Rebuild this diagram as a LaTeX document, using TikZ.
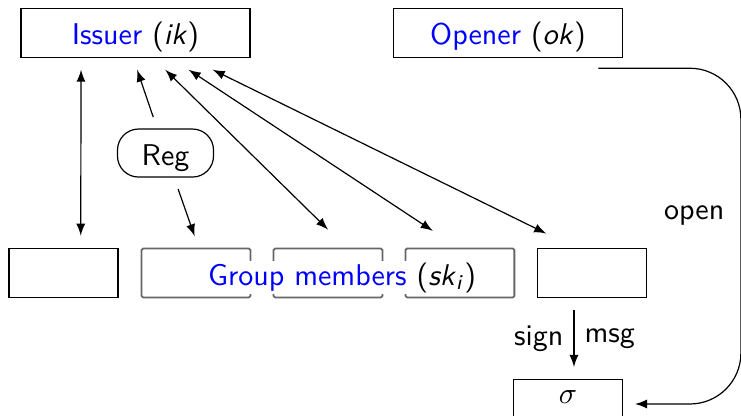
\documentclass[tikz,border=0pt]{standalone}
\usepackage{amsmath}
\usepackage{tikz}
\usetikzlibrary{arrows}
\renewcommand{\familydefault}{\sfdefault}

\begin{document}
\begin{tikzpicture}[
            >=latex,
            party/.style={draw, minimum width=76.3pt, minimum height=16.3pt, inner ysep=1pt, text height=2.4ex, text depth=.6ex}, % Issuer and opener
            member/.style={draw, minimum width=36.3pt, minimum height=16.3pt}, % One box per group member
            faded/.style={member, draw=black!60, line width=.6pt, rounded corners=.5pt}, % Members lying behind the label
            regbox/.style={draw, rounded corners=7pt, minimum width=32pt, minimum height=16pt, inner ysep=1pt, text height=2.4ex, text depth=.6ex},
            both/.style={<->}, % Two-way exchange with the issuer
            one/.style={->, shorten <=4pt}
            ]

        \useasboundingbox (0,0) rectangle (8.681,4.862);

        % Issuer and opener on top
        \node[party] (issuer) at (1.587,4.479) {\textcolor{blue}{Issuer} (\textsl{ik})};
        \node[party] (opener) at (5.951,4.479) {\textcolor{blue}{Opener} (\textsl{ok})};

        % Row of group members
        \node[member] (m1) at (0.744,1.664) {};
        \node[faded] (m2) at (2.296,1.664) {};
        \node[faded] (m3) at (3.843,1.664) {};
        \node[faded] (m4) at (5.388,1.664) {};
        \node[member] (m5) at (6.935,1.664) {};
        \node[fill=white, inner sep=.5pt, anchor=base] (grp) at (4.007,1.523)
            {\textcolor{blue}{Group members} (\textsl{sk}\textsubscript{\textsl{i}})};

        \node[regbox] (reg) at (1.939,3.069) {Reg};

        % Signature
        \node[member, text height=1ex, text depth=1ex] (sigma) at (6.654,0.129) {$\sigma$};

        % Issuer <-> members
        \draw[both] ([xshift=20.2pt,yshift=-4pt]issuer.south west) -- ([xshift=24.1pt,yshift=4.1pt]m1.north west);
        \draw[one] (reg) -- ([xshift=38.9pt,yshift=-4pt]issuer.south west);
        \draw[one] (reg) -- ([xshift=18pt,yshift=3.8pt]m2.north west);
        \draw[both] ([xshift=48.3pt,yshift=-4pt]issuer.south west) -- ([yshift=6pt]m3.north);
        \draw[both] ([xshift=56.1pt,yshift=-4pt]issuer.south west) -- ([xshift=9.4pt,yshift=5.6pt]m4.north west);
        \draw[both] ([xshift=64.1pt,yshift=-4pt]issuer.south west) -- ([xshift=3.1pt,yshift=4.8pt]m5.north west);

        % Signing and opening
        \coordinate (tosig) at ([xshift=2pt]sigma.north);
        \draw[one, shorten >=4pt] (tosig |- m5.south) -- node[left] {sign} node[right] {msg} (tosig);
        \draw[->, shorten >=4pt, rounded corners=17pt] ([xshift=-8.2pt,yshift=-3.5pt]opener.south east)
            -- ++(47.5pt,0) |- node[pos=.22, left=2pt] {open} (sigma.east);

\end{tikzpicture}
\end{document}
